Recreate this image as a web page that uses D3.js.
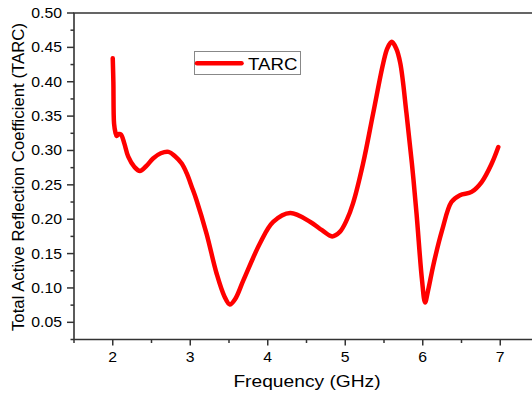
<!DOCTYPE html>
<html><head><meta charset="utf-8">
<script src="https://cdn.jsdelivr.net/npm/d3@7"></script>
<style>body{margin:0;background:#fff}svg{display:block}text{font-family:"Liberation Sans",Arial,sans-serif;fill:#000}</style>
</head><body><svg id="c" width="532" height="394"></svg>
<script>
const freq = [2.0, 2.008, 2.017, 2.035, 2.05, 2.08, 2.107, 2.15, 2.2, 2.28, 2.35, 2.43, 2.52, 2.62, 2.72, 2.8, 2.89, 2.955, 3.02, 3.08, 3.21, 3.34, 3.44, 3.51, 3.58, 3.685, 3.9, 4.07, 4.29, 4.55, 4.7, 4.83, 4.93, 5.02, 5.1, 5.23, 5.36, 5.49, 5.545, 5.6, 5.655, 5.71, 5.79, 5.86, 5.92, 5.99, 6.03, 6.07, 6.14, 6.25, 6.37, 6.48, 6.63, 6.76, 6.89, 6.975];
const tarc = [0.434, 0.40, 0.339, 0.326, 0.321, 0.324, 0.323, 0.31, 0.291, 0.276, 0.2703, 0.277, 0.2884, 0.296, 0.298, 0.292, 0.281, 0.2666, 0.247, 0.228, 0.179, 0.121, 0.088, 0.076, 0.084, 0.111, 0.165, 0.196, 0.209, 0.196, 0.184, 0.175, 0.1815, 0.199, 0.223, 0.281, 0.354, 0.427, 0.449, 0.458, 0.449, 0.427, 0.354, 0.281, 0.208, 0.112, 0.079, 0.097, 0.135, 0.184, 0.225, 0.235, 0.2397, 0.254, 0.281, 0.305];
const xTicks = [2, 3, 4, 5, 6, 7];
const yTicks = [0.05, 0.10, 0.15, 0.20, 0.25, 0.30, 0.35, 0.40, 0.45, 0.50];
const seriesName = "TARC";
const xTitle = "Frequency (GHz)";
const yTitle = "Total Active Reflection Coefficient (TARC)";

const svg = d3.select("#c");
const L = 74, T = 13, B = 339.5, R = 539;
const x = d3.scaleLinear().domain([1.5, 7.5]).range([L, R]);
const y = d3.scaleLinear().domain([0.025, 0.5]).range([B, T]);
const axisColor = "#333";
const sx = 1.13;

const xMinor = d3.range(1.5, 7.51, 0.5).filter(v => Math.abs(v - Math.round(v)) > 0.01);
const yMinor = d3.range(0.025, 0.5, 0.05);

const gx = svg.append("g");
gx.selectAll("line.maj").data(xTicks).join("line")
  .attr("x1", d => x(d)).attr("x2", d => x(d)).attr("y1", B).attr("y2", B + 6)
  .attr("stroke", axisColor).attr("stroke-width", 1.5);
gx.selectAll("line.min").data(xMinor).join("line").attr("class","min")
  .attr("x1", d => x(d)).attr("x2", d => x(d)).attr("y1", B).attr("y2", B + 3.5)
  .attr("stroke", axisColor).attr("stroke-width", 1.5);
gx.selectAll("text").data(xTicks).join("text")
  .attr("transform", d => `translate(${x(d)},362) scale(${sx},1)`)
  .attr("text-anchor", "middle").attr("font-size", 14).text(d => d);

const gy = svg.append("g");
gy.selectAll("line.maj").data(yTicks).join("line")
  .attr("x1", L - 7).attr("x2", L).attr("y1", d => y(d)).attr("y2", d => y(d))
  .attr("stroke", axisColor).attr("stroke-width", 1.5);
gy.selectAll("line.min").data(yMinor).join("line").attr("class","min")
  .attr("x1", L - 3.5).attr("x2", L).attr("y1", d => y(d)).attr("y2", d => y(d))
  .attr("stroke", axisColor).attr("stroke-width", 1.5);
gy.selectAll("text").data(yTicks).join("text")
  .attr("transform", d => `translate(62,${y(d) + 5}) scale(${sx},1)`)
  .attr("text-anchor", "end").attr("font-size", 14).text(d => d3.format(".2f")(d));

svg.append("path").attr("d", `M${L},${B}H${R}M${L},${B}V${T}H${R}`)
  .attr("fill", "none").attr("stroke", axisColor).attr("stroke-width", 1.6);

const line = d3.line().x((d, i) => x(freq[i])).y(d => y(d)).curve(d3.curveCatmullRom.alpha(0.5));
svg.append("path").datum(tarc).attr("d", line)
  .attr("fill", "none").attr("stroke", "#ff0000").attr("stroke-width", 4.5)
  .attr("stroke-linecap", "round").attr("stroke-linejoin", "round");

svg.append("text").attr("transform", `translate(307,387) scale(${sx},1)`)
  .attr("text-anchor", "middle").attr("font-size", 17).text(xTitle);
svg.append("text").attr("transform", `translate(24,177) rotate(-90)`)
  .attr("text-anchor", "middle").attr("font-size", 16.8).text(yTitle);

const lg = svg.append("g");
lg.append("rect").attr("x", 194.5).attr("y", 51.5).attr("width", 106).attr("height", 23)
  .attr("fill", "#fff").attr("stroke", "#888").attr("stroke-width", 1);
lg.append("line").attr("x1", 197).attr("x2", 241.5).attr("y1", 63.3).attr("y2", 63.3)
  .attr("stroke", "#ff0000").attr("stroke-width", 4.5).attr("stroke-linecap", "round");
lg.append("text").attr("transform", `translate(248,69.5) scale(${sx},1)`)
  .attr("font-size", 16.5).text(seriesName);
</script></body></html>
